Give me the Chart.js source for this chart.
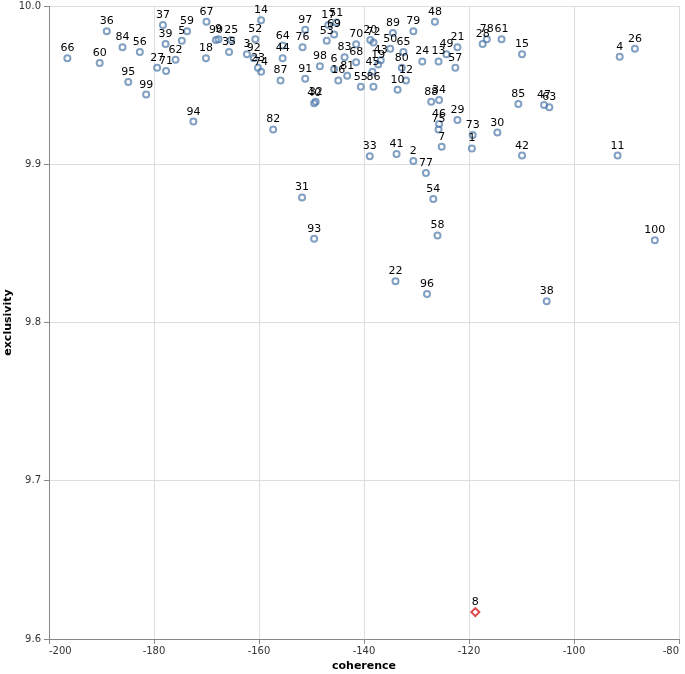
<!DOCTYPE html>
<html>
<head>
<meta charset="utf-8">
<script src="https://cdn.jsdelivr.net/npm/chart.js@4.4.1/dist/chart.umd.min.js"></script>
<style>
  html, body { margin: 0; padding: 0; background: #fff; }
  #wrap { width: 685px; height: 674px; }
</style>
</head>
<body>
<div id="wrap"><canvas id="topicChart"></canvas></div>
<script>
// topic id, coherence (x), exclusivity (y)
var topicIds = [1,2,3,4,5,6,7,9,10,11,12,13,14,15,16,17,18,19,20,21,22,23,24,25,26,27,28,29,30,31,32,33,34,35,36,37,38,39,40,41,42,43,44,45,46,47,48,49,50,51,52,53,54,55,56,57,58,59,60,61,62,63,64,65,66,67,68,69,70,71,72,73,74,75,76,77,78,79,80,81,82,83,84,85,86,87,88,89,90,91,92,93,94,95,96,97,98,99,100];
var coherence = [-119.45,-130.6,-162.3,-91.3,-174.7,-145.7,-125.2,-167.7,-133.6,-91.7,-132.0,-125.8,-159.6,-109.9,-144.9,-146.8,-170.1,-137.3,-138.8,-122.2,-134.0,-160.2,-128.9,-165.3,-88.4,-179.4,-117.4,-122.2,-114.6,-151.8,-149.2,-138.9,-125.7,-165.7,-189.0,-178.3,-105.2,-177.8,-149.5,-133.8,-109.9,-136.8,-155.5,-138.4,-125.7,-105.7,-126.5,-124.3,-135.0,-145.3,-160.7,-147.1,-126.8,-140.6,-182.7,-122.6,-126.0,-173.7,-190.35,-113.8,-175.9,-104.7,-155.5,-132.5,-196.5,-170.0,-141.5,-145.7,-141.5,-177.7,-138.2,-119.3,-159.6,-125.8,-151.7,-128.2,-116.6,-130.6,-132.8,-143.2,-157.3,-143.7,-186.0,-110.6,-138.2,-155.9,-127.2,-134.5,-168.2,-151.2,-161.0,-149.5,-172.5,-184.9,-128.0,-151.2,-148.4,-181.5,-84.6];
var exclusivity = [9.910,9.902,9.9695,9.968,9.978,9.960,9.911,9.979,9.947,9.9055,9.953,9.965,9.991,9.9695,9.953,9.988,9.967,9.963,9.9785,9.974,9.826,9.961,9.965,9.9785,9.973,9.961,9.976,9.928,9.920,9.879,9.9395,9.905,9.9406,9.971,9.984,9.988,9.8135,9.976,9.9385,9.9065,9.9055,9.9657,9.967,9.9585,9.9255,9.9375,9.990,9.9695,9.973,9.9895,9.979,9.978,9.878,9.949,9.971,9.961,9.855,9.984,9.964,9.979,9.966,9.936,9.975,9.971,9.967,9.990,9.9644,9.982,9.9758,9.959,9.977,9.9185,9.9585,9.922,9.974,9.8945,9.979,9.984,9.961,9.956,9.922,9.9676,9.974,9.938,9.949,9.953,9.9395,9.983,9.9785,9.954,9.967,9.853,9.927,9.952,9.818,9.985,9.962,9.944,9.852];

// highlighted topic
var highlightIds = [8];
var highlightCoherence = [-118.8];
var highlightExclusivity = [9.617];

var xTicks = [-200, -180, -160, -140, -120, -100, -80];
var yTicks = [9.6, 9.7, 9.8, 9.9, 10.0];

function toPoints(ids, xs, ys) {
  return ids.map(function(id, i) { return { x: xs[i], y: ys[i], id: id }; });
}

var FONT = '"DejaVu Sans", Verdana, sans-serif';

// draws the topic number above each point
var pointLabels = {
  id: 'pointLabels',
  afterDatasetsDraw: function(chart) {
    var ctx = chart.ctx;
    ctx.save();
    ctx.font = '11px ' + FONT;
    ctx.fillStyle = '#000';
    ctx.textAlign = 'center';
    ctx.textBaseline = 'alphabetic';
    chart.data.datasets.forEach(function(ds, di) {
      chart.getDatasetMeta(di).data.forEach(function(el, i) {
        ctx.fillText(String(ds.data[i].id), el.x, el.y - 7);
      });
    });
    ctx.restore();
  }
};

new Chart(document.getElementById('topicChart').getContext('2d'), {
  type: 'scatter',
  data: { datasets: [
    { label: 'topics', data: toPoints(topicIds, coherence, exclusivity),
      pointStyle: 'circle', pointRadius: 3, pointHoverRadius: 3, borderWidth: 2,
      borderColor: 'rgba(76,120,168,0.7)', backgroundColor: 'rgba(0,0,0,0)' },
    { label: 'highlight', data: toPoints(highlightIds, highlightCoherence, highlightExclusivity),
      pointStyle: 'rectRot', pointRadius: 4, pointHoverRadius: 4, borderWidth: 2,
      borderColor: 'rgba(214,39,40,0.85)', backgroundColor: 'rgba(0,0,0,0)' }
  ]},
  options: {
    responsive: true, maintainAspectRatio: false, animation: false,
    layout: { padding: { top: 0, right: 3, left: 0, bottom: 0 } },
    plugins: { legend: { display: false }, tooltip: { enabled: false } },
    scales: {
      x: {
        type: 'linear', min: -200, max: -80,
        afterBuildTicks: function(s) { s.ticks = xTicks.map(function(v) { return { value: v }; }); },
        afterFit: function(s) { s.height = 35; },
        grid: { color: '#ddd', tickColor: '#888', tickLength: 5 },
        border: { color: '#888' },
        ticks: { font: { family: FONT, size: 10 }, color: '#333', padding: 1, maxRotation: 0, align: 'inner' },
        title: { display: true, text: 'coherence', font: { family: FONT, size: 11, weight: 'bold' }, color: '#000', padding: { top: 1, bottom: 1 } }
      },
      y: {
        type: 'linear', min: 9.6, max: 10.0,
        afterBuildTicks: function(s) { s.ticks = yTicks.map(function(v) { return { value: v }; }); },
        afterFit: function(s) { s.width = 49; s.paddingTop = 6; },
        grid: { color: '#ddd', tickColor: '#888', tickLength: 5 },
        border: { color: '#888' },
        ticks: { font: { family: FONT, size: 10 }, color: '#333', padding: 3,
          callback: function(v) { return Number(v).toFixed(1); } },
        title: { display: true, text: 'exclusivity', font: { family: FONT, size: 11, weight: 'bold' }, color: '#000', padding: { top: 2, bottom: 0 } }
      }
    }
  },
  plugins: [pointLabels]
});
</script>
</body>
</html>
